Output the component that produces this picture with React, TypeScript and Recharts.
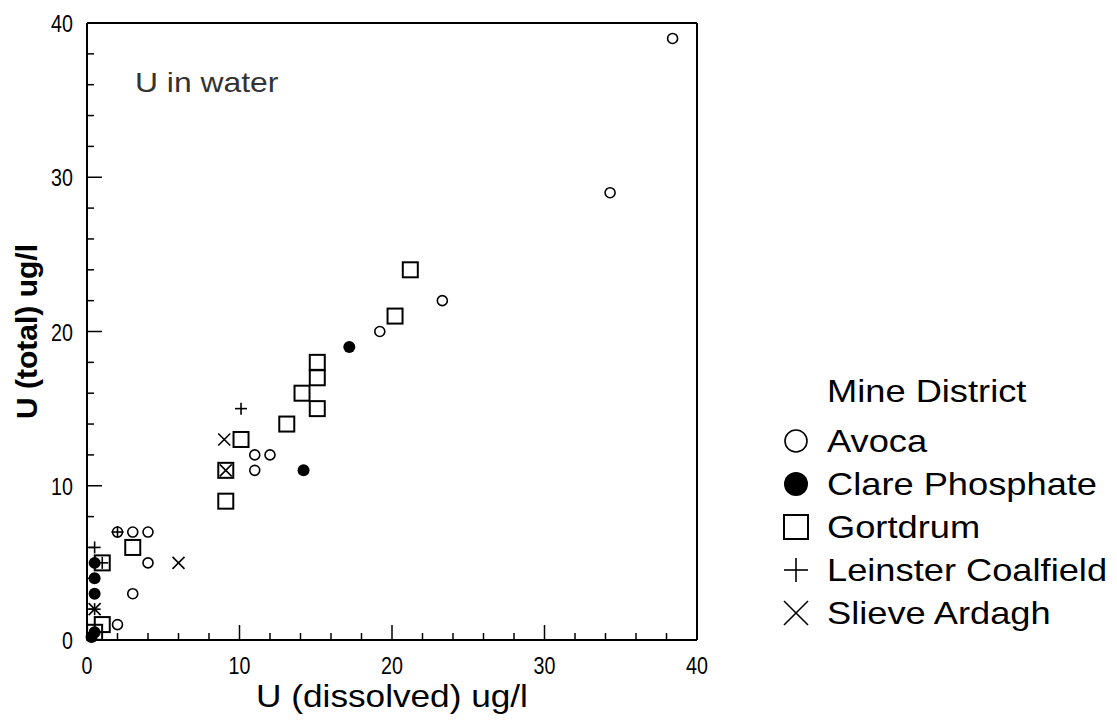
import React from 'react';
import {Scatter, ScatterChart, XAxis, YAxis} from 'recharts';

type Pt = { x: number, y: number };

// values (U dissolved, U total)
const avoca: Pt[] = [
    {x: 38.4, y: 39}, {x: 34.3, y: 29}, {x: 23.3, y: 22}, {x: 19.2, y: 20}, {x: 11, y: 12}, {x: 12, y: 12},
    {x: 11, y: 11}, {x: 2, y: 7}, {x: 3, y: 7}, {x: 4, y: 7}, {x: 4, y: 5}, {x: 3, y: 3}, {x: 2, y: 1},
];
const clare: Pt[] = [
    {x: 17.2, y: 19}, {x: 14.2, y: 11}, {x: 0.5, y: 5}, {x: 0.5, y: 4}, {x: 0.5, y: 3}, {x: 0.5, y: 0.5}, {x: 0.3, y: 0.2},
];
const gortdrum: Pt[] = [
    {x: 21.2, y: 24}, {x: 20.2, y: 21}, {x: 15.1, y: 18}, {x: 15.1, y: 17}, {x: 14.1, y: 16}, {x: 15.1, y: 15},
    {x: 13.1, y: 14}, {x: 10.1, y: 13}, {x: 9.1, y: 11}, {x: 9.1, y: 9}, {x: 3, y: 6}, {x: 1, y: 5}, {x: 1, y: 1},
    {x: 0.5, y: 0.5},
];
const leinster: Pt[] = [
    {x: 10.1, y: 15}, {x: 2, y: 7}, {x: 0.5, y: 6}, {x: 1, y: 5}, {x: 0.5, y: 2},
];
const slieve: Pt[] = [
    {x: 9, y: 13}, {x: 6, y: 5}, {x: 0.5, y: 2}, {x: 9.1, y: 11},
];

const ticks: number[] = [0, 2, 4, 6, 8, 10, 12, 14, 16, 18, 20, 22, 24, 26, 28, 30, 32, 34, 36, 38, 40];
const tickLabels: number[] = [0, 10, 20, 30, 40];

type Kind = 'circle' | 'dot' | 'square' | 'plus' | 'cross';

const series: { name: string, data: Pt[], kind: Kind }[] = [
    {name: 'Gortdrum', data: gortdrum, kind: 'square'},
    {name: 'Avoca', data: avoca, kind: 'circle'},
    {name: 'Clare Phosphate', data: clare, kind: 'dot'},
    {name: 'Leinster Coalfield', data: leinster, kind: 'plus'},
    {name: 'Slieve Ardagh', data: slieve, kind: 'cross'},
];
const legendOrder: string[] = ['Avoca', 'Clare Phosphate', 'Gortdrum', 'Leinster Coalfield', 'Slieve Ardagh'];

const sans = "'Liberation Sans', Arial, sans-serif";

function Marker({cx, cy, kind, s = 1}: { cx: number, cy: number, kind: Kind, s?: number }) {
    switch (kind) {
        case 'circle':
            return <circle cx={cx} cy={cy} r={5 * s} fill="none" stroke="#000" strokeWidth={1.6}/>;
        case 'dot':
            return <circle cx={cx} cy={cy} r={6 * s} fill="#000"/>;
        case 'square':
            return <rect x={cx - 7.5 * s} y={cy - 7.5 * s} width={15 * s} height={15 * s} fill="none" stroke="#000"
                         strokeWidth={2}/>;
        case 'plus':
            return <g stroke="#000" strokeWidth={1.6}>
                <line x1={cx - 6 * s} y1={cy} x2={cx + 6 * s} y2={cy}/>
                <line x1={cx} y1={cy - 6 * s} x2={cx} y2={cy + 6 * s}/>
            </g>;
        default:
            return <g stroke="#000" strokeWidth={1.6}>
                <line x1={cx - 6 * s} y1={cy - 6 * s} x2={cx + 6 * s} y2={cy + 6 * s}/>
                <line x1={cx - 6 * s} y1={cy + 6 * s} x2={cx + 6 * s} y2={cy - 6 * s}/>
            </g>;
    }
}

function tickLen(v: number): number {
    return v % 10 === 0 ? 15 : 7;
}

// narrow-looking tick numbers
function Num({x, y, anchor, v}: { x: number, y: number, anchor: 'middle' | 'end', v: number }) {
    return <text transform={`translate(${x},${y}) scale(0.82,1)`} textAnchor={anchor} fontSize={24}
                 fontFamily={sans} fill="#000">{v}</text>;
}

function BottomTick(props: any) {
    const {x, y, payload} = props;
    const v = payload.value;
    return <g>
        <line x1={x} y1={y} x2={x} y2={y - tickLen(v)} stroke="#000" strokeWidth={1.5}/>
        {tickLabels.includes(v) && <Num x={x} y={y + 34} anchor="middle" v={v}/>}
    </g>;
}

function TopTick(props: any) {
    const {x, y, payload} = props;
    return <line x1={x} y1={y} x2={x} y2={y + tickLen(payload.value)} stroke="#000" strokeWidth={1.5}/>;
}

function LeftTick(props: any) {
    const {x, y, payload} = props;
    const v = payload.value;
    return <g>
        <line x1={x} y1={y} x2={x + tickLen(v)} y2={y} stroke="#000" strokeWidth={1.5}/>
        {tickLabels.includes(v) && <Num x={x - 14} y={y + 9} anchor="end" v={v}/>}
    </g>;
}

function RightTick(props: any) {
    const {x, y, payload} = props;
    return <line x1={x} y1={y} x2={x - tickLen(payload.value)} y2={y} stroke="#000" strokeWidth={1.5}/>;
}

function LegendBox() {
    const symX = 788, textX = 819, top = 444, step = 43;
    return <svg width={1100} height={706} style={{position: 'absolute', left: 0, top: 0, pointerEvents: 'none'}}>
        <text transform={`translate(${textX},394) scale(1.17,1)`} fontSize={31} fontFamily={sans} fill="#000">
            Mine District
        </text>
        {legendOrder.map((name, i) => {
            const s = series.find(d => d.name === name)!;
            const base = top + i * step;
            const k = s.kind === 'circle' ? 2.2 : s.kind === 'dot' ? 2 : s.kind === 'square' ? 1.6 : 2;
            return <g key={name}>
                <Marker cx={symX} cy={base - 11} kind={s.kind} s={k}/>
                <text transform={`translate(${textX},${base}) scale(1.17,1)`} fontSize={31} fontFamily={sans}
                      fill="#000">{name}</text>
            </g>;
        })}
        <text transform="translate(127,84) scale(1.18,1)" fontSize={27} fontFamily={sans} fill="#333">
            U in water
        </text>
    </svg>;
}

export default function App() {
    return (
        <div style={{position: 'relative', width: 1100, height: 706}}>
            <ScatterChart width={1100} height={706} margin={{top: 14, right: 410, left: 19, bottom: 14}}>
                <XAxis xAxisId="b" type="number" dataKey="x" domain={[0, 40]} ticks={ticks} interval={0}
                       height={60} tickSize={0} tickMargin={0} tick={<BottomTick/>}
                       axisLine={{stroke: '#000', strokeWidth: 2}} tickLine={false}
                       label={(p: any) => {
                           const cx = p.viewBox.x + p.viewBox.width / 2, cy = p.viewBox.y + 67;
                           return <text transform={`translate(${cx},${cy}) scale(1.1,1)`} textAnchor="middle"
                                        fontSize={32} fontFamily={sans} fill="#000">U (dissolved) ug/l</text>;
                       }}/>
                <XAxis xAxisId="t" orientation="top" type="number" dataKey="x" domain={[0, 40]} ticks={ticks}
                       interval={0} height={1} tickSize={0} tickMargin={0} tick={<TopTick/>}
                       axisLine={{stroke: '#000', strokeWidth: 2}} tickLine={false}/>
                <YAxis yAxisId="l" type="number" dataKey="y" domain={[0, 40]} ticks={ticks} interval={0}
                       width={60} tickSize={0} tickMargin={0} tick={<LeftTick/>}
                       axisLine={{stroke: '#000', strokeWidth: 2}} tickLine={false}
                       label={(p: any) => {
                           const cx = 29, cy = p.viewBox.y + p.viewBox.height / 2;
                           return <text x={cx} y={cy} transform={`rotate(-90 ${cx} ${cy})`} textAnchor="middle"
                                        fontSize={30} fontWeight="bold" fontFamily={sans}
                                        fill="#000">U (total) ug/l</text>;
                       }}/>
                <YAxis yAxisId="r" orientation="right" type="number" dataKey="y" domain={[0, 40]} ticks={ticks}
                       interval={0} width={1} tickSize={0} tickMargin={0} tick={<RightTick/>}
                       axisLine={{stroke: '#000', strokeWidth: 2}} tickLine={false}/>
                {series.map(s => (
                    <Scatter key={s.name} name={s.name} data={s.data} xAxisId="b" yAxisId="l"
                             isAnimationActive={false}
                             shape={(p: any) => <Marker cx={p.cx} cy={p.cy} kind={s.kind}/>}/>
                ))}
            </ScatterChart>
            <LegendBox/>
        </div>
    );
}
